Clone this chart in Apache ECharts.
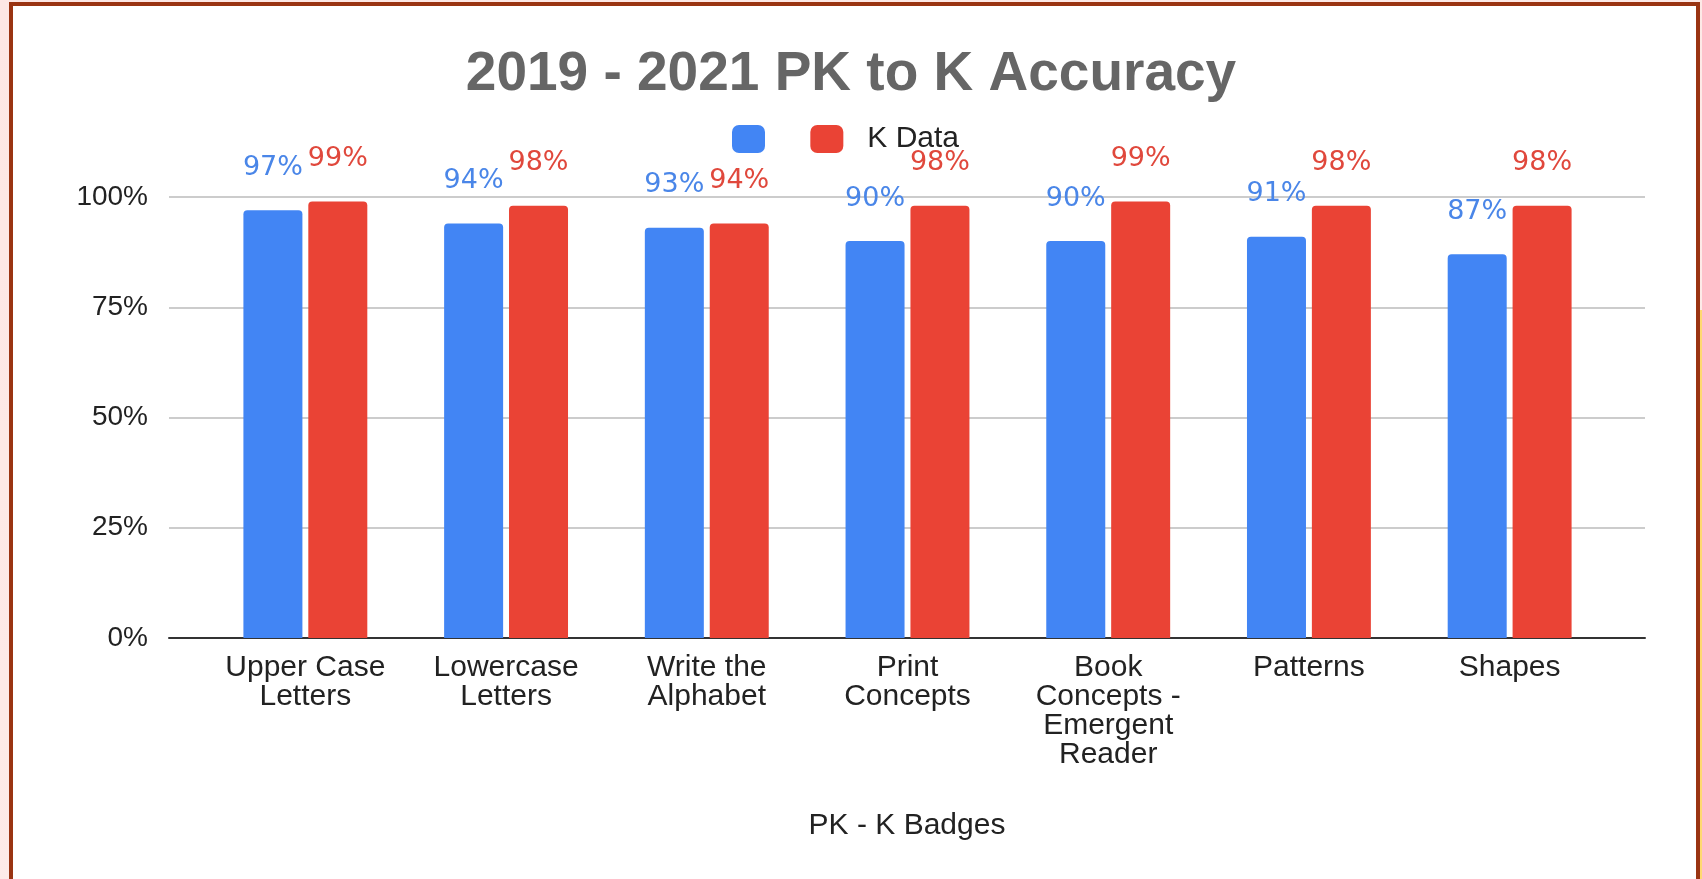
<!DOCTYPE html>
<html>
<head>
<meta charset="utf-8">
<script src="https://cdn.jsdelivr.net/npm/echarts@6/dist/echarts.min.js"></script>
<style>
  html, body { margin: 0; padding: 0; }
  body {
    width: 1702px; height: 879px; overflow: hidden; position: relative;
    background: linear-gradient(160deg, #fde7e4 0%, #fdebe8 62%, #ffd970 62%, #ffd970 100%);
  }
  .frame {
    position: absolute; left: 9px; top: 2px; width: 1683px; height: 900px;
    background: #fff; border: 4px solid #9a3412;
  }
  #chart { position: absolute; left: 0; top: 0; width: 1702px; height: 879px; }
</style>
</head>
<body>
<div class="frame"></div>
<div id="chart"></div>
<script>
window.addEventListener("load", function () {

  // 数据
  var categories = [
    "Upper Case\nLetters",
    "Lowercase\nLetters",
    "Write the\nAlphabet",
    "Print\nConcepts",
    "Book\nConcepts -\nEmergent\nReader",
    "Patterns",
    "Shapes"
  ];
  var pkData = [97, 94, 93, 90, 90, 91, 87];
  var kData = [99, 98, 94, 98, 99, 98, 98];
  var yTicks = [0, 25, 50, 75, 100];

  var blue = "#4285f4";
  var red = "#ea4335";
  var font = "Liberation Sans";

  var myChart = echarts.init(document.getElementById("chart"));

  // 数值标签样式
  function valueLabel(color) {
    return {
      show: true,
      position: "top",
      distance: 29,
      formatter: "{c}%",
      fontFamily: "DejaVu Sans",
      fontSize: 27,
      color: color
    };
  }

  var option = {
    title: {
      text: "2019 - 2021 PK to K Accuracy",
      left: "center",
      top: 42,
      textStyle: {
        fontFamily: font,
        fontSize: 55,
        fontWeight: "bold",
        color: "#666666"
      }
    },
    legend: {
      left: 732,
      top: 124,
      padding: 0,
      itemWidth: 33,
      itemHeight: 28,
      itemGap: 13,
      icon: "roundRect",
      data: [" ", "K Data"],
      textStyle: {
        fontFamily: font,
        fontSize: 30,
        color: "#222",
        padding: [0, 0, 0, 19]
      }
    },
    // 两个 grid：一个画网格线，一个放柱子（柱子两侧有留白）
    grid: [
      { left: 169, right: 57, top: 197, bottom: 241 },
      { left: 205, right: 92, top: 197, bottom: 241 }
    ],
    xAxis: [
      {
        gridIndex: 0,
        type: "value",
        min: 0,
        max: 1,
        axisLabel: { show: false },
        axisTick: { show: false },
        splitLine: { show: false },
        axisLine: { show: true, lineStyle: { color: "#333", width: 2 } },
        name: "PK - K Badges",
        nameLocation: "middle",
        nameGap: 173,
        nameTextStyle: { fontFamily: font, fontSize: 30, color: "#222" }
      },
      {
        gridIndex: 1,
        type: "category",
        data: categories,
        axisLine: { show: false },
        axisTick: { show: false },
        axisLabel: {
          interval: 0,
          margin: 15,
          fontFamily: font,
          fontSize: 30,
          lineHeight: 29,
          color: "#222"
        }
      }
    ],
    yAxis: [
      {
        gridIndex: 0,
        type: "value",
        min: yTicks[0],
        max: yTicks[yTicks.length - 1],
        interval: 25,
        axisLine: { show: false },
        axisTick: { show: false },
        axisLabel: {
          margin: 21,
          formatter: "{value}%",
          fontFamily: font,
          fontSize: 28,
          color: "#222"
        },
        splitLine: { lineStyle: { color: "#cccccc", width: 2 } }
      },
      {
        gridIndex: 1,
        type: "value",
        min: 0,
        max: 100,
        show: false,
        splitLine: { show: false }
      }
    ],
    series: [
      {
        name: " ",
        type: "bar",
        xAxisIndex: 1,
        yAxisIndex: 1,
        data: pkData,
        barWidth: 59,
        barGap: "10%",
        itemStyle: { color: blue, borderRadius: [4, 4, 0, 0] },
        label: valueLabel("#4a86e8")
      },
      {
        name: "K Data",
        type: "bar",
        xAxisIndex: 1,
        yAxisIndex: 1,
        data: kData,
        barWidth: 59,
        barGap: "10%",
        itemStyle: { color: red, borderRadius: [4, 4, 0, 0] },
        label: valueLabel("#e0483c")
      }
    ]
  };

  myChart.setOption(option);

  window.addEventListener("resize", function () {
    myChart.resize();
  });
});
</script>
</body>
</html>
